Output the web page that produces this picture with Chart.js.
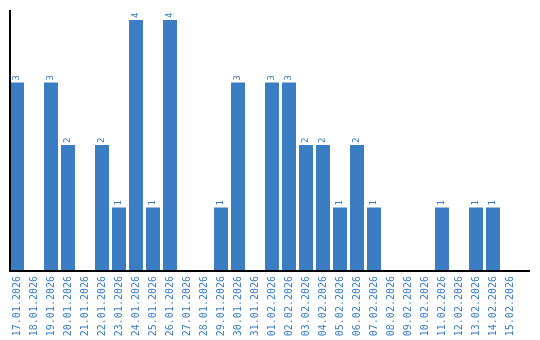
<!DOCTYPE html>
<html>
<head>
<meta charset="utf-8">
<script src="https://cdn.jsdelivr.net/npm/chart.js@4"></script>
<style>
    html, body { margin: 0; padding: 0; background: #fff; }
    #wrap { width: 540px; height: 340px; }
</style>
</head>
<body>
<div id="wrap"><canvas id="dayChart" width="540" height="340"></canvas></div>
<script>
// dates shown on the x axis
const days = [
    '17.01.2026', '18.01.2026', '19.01.2026', '20.01.2026', '21.01.2026',
    '22.01.2026', '23.01.2026', '24.01.2026', '25.01.2026', '26.01.2026',
    '27.01.2026', '28.01.2026', '29.01.2026', '30.01.2026', '31.01.2026',
    '01.02.2026', '02.02.2026', '03.02.2026', '04.02.2026', '05.02.2026',
    '06.02.2026', '07.02.2026', '08.02.2026', '09.02.2026', '10.02.2026',
    '11.02.2026', '12.02.2026', '13.02.2026', '14.02.2026', '15.02.2026'
];
// count per day
const counts = [3, 0, 3, 2, 0, 2, 1, 4, 1, 4, 0, 0, 1, 3, 0, 3, 3, 2, 2, 1, 2, 1, 0, 0, 0, 1, 0, 1, 1, 0];

const barColor = '#3b7dc3';
const textColor = '#3b7dc3';

// axis lines + value labels above the bars
const decorPlugin = {
    id: 'decor',
    afterDatasetsDraw(chart) {
        const ctx = chart.ctx;
        const area = chart.chartArea;
        ctx.save();
        ctx.strokeStyle = '#000';
        ctx.lineWidth = 2;
        ctx.beginPath();
        ctx.moveTo(10, area.top);
        ctx.lineTo(10, area.bottom + 1);
        ctx.moveTo(9, area.bottom + 1);
        ctx.lineTo(530, area.bottom + 1);
        ctx.stroke();

        ctx.fillStyle = textColor;
        ctx.font = '9px "DejaVu Sans Mono"';
        ctx.textAlign = 'left';
        ctx.textBaseline = 'middle';
        const meta = chart.getDatasetMeta(0);
        meta.data.forEach((bar, i) => {
            if (!counts[i]) return;
            ctx.save();
            ctx.translate(bar.x, bar.y - 2);
            ctx.rotate(-Math.PI / 2);
            ctx.fillText(String(counts[i]), 0, 0);
            ctx.restore();
        });
        ctx.restore();
    }
};

const ctx = document.getElementById('dayChart').getContext('2d');
const dayChart = new Chart(ctx, {
    type: 'bar',
    data: {
        labels: days,
        datasets: [{
            data: counts,
            backgroundColor: barColor,
            borderWidth: 0,
            barPercentage: 1,
            categoryPercentage: 14 / 17
        }]
    },
    options: {
        responsive: false,
        animation: false,
        layout: {
            padding: { left: 8.5, top: 10, right: 21.5, bottom: 0 }
        },
        scales: {
            x: {
                offset: true,
                grid: { display: false, drawTicks: false },
                border: { display: false },
                ticks: {
                    autoSkip: false,
                    minRotation: 90,
                    maxRotation: 90,
                    padding: 6,
                    color: textColor,
                    font: { family: '"DejaVu Sans Mono"', size: 10 }
                },
                afterFit(scale) { scale.height = 70; }
            },
            y: {
                display: false,
                min: 0,
                max: 4.16
            }
        },
        plugins: {
            legend: { display: false },
            tooltip: { enabled: false }
        }
    },
    plugins: [decorPlugin]
});
</script>
</body>
</html>
